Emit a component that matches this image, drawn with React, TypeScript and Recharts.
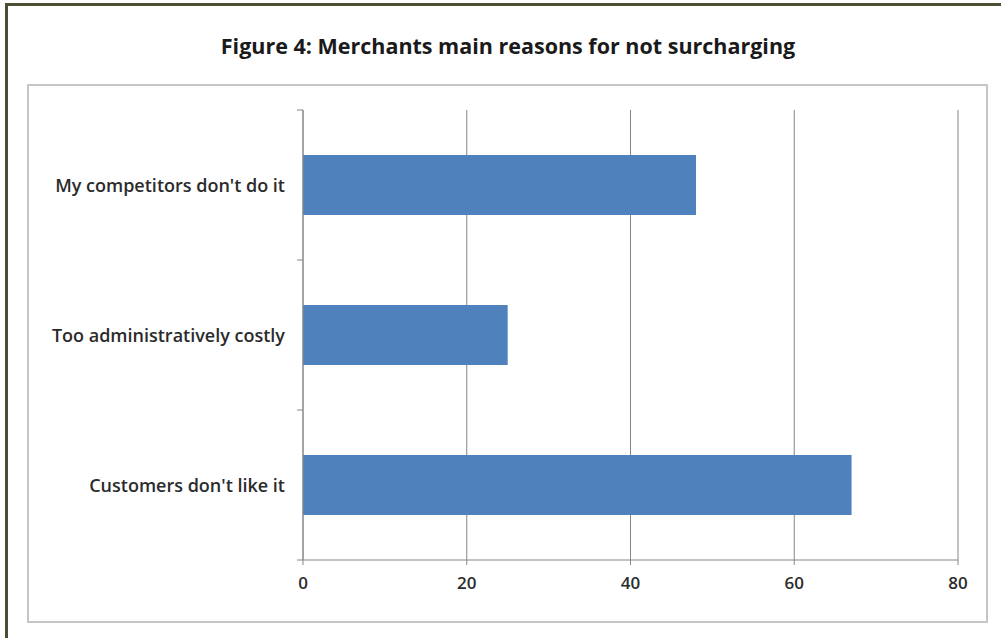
import { Bar, BarChart, CartesianGrid, XAxis, YAxis } from "recharts";

const reasons = [
  "My competitors don't do it",
  "Too administratively costly",
  "Customers don't like it",
];
const shares = [48, 25, 67];
const xTicks = [0, 20, 40, 60, 80];

const chartData = reasons.map((name, i) => ({ name, value: shares[i] }));

const AXIS = "#868686";
const FONT = "'Open Sans', Lato, sans-serif";
const PLOT_LEFT = 303;
const PLOT_TOP = 110;
const PLOT_BOTTOM = 560;
const BAND = (PLOT_BOTTOM - PLOT_TOP) / reasons.length;

// excel puts the category ticks between bands, so draw them by hand
function ReasonTick(props: any) {
  const { y, payload, index } = props;
  const top = y - BAND / 2;
  const bottom = y + BAND / 2;
  return (
    <g>
      <text
        x={PLOT_LEFT - 18}
        y={y}
        textAnchor="end"
        dominantBaseline="central"
        fill="#2b2b2b"
        fontSize={18}
        fontWeight={600}
        fontFamily={FONT}
      >
        {payload.value}
      </text>
      <line x1={PLOT_LEFT - 6} x2={PLOT_LEFT} y1={top} y2={top} stroke={AXIS} />
      {index === reasons.length - 1 && (
        <line x1={PLOT_LEFT - 6} x2={PLOT_LEFT} y1={bottom} y2={bottom} stroke={AXIS} />
      )}
    </g>
  );
}

export default function App() {
  return (
    <div
      style={{
        position: "absolute",
        left: 0,
        top: 0,
        width: 1001,
        height: 638,
        overflow: "hidden",
        background: "#ffffff",
        fontFamily: FONT,
      }}
    >
      <div
        style={{
          position: "absolute",
          left: 5,
          top: 3,
          width: 1100,
          height: 700,
          border: "3px solid #4d4d33",
        }}
      />
      <div
        style={{
          position: "absolute",
          left: 0,
          top: 31,
          width: 1016,
          textAlign: "center",
          fontSize: 21.5,
          fontWeight: 700,
          color: "#1a1a1a",
        }}
      >
        Figure 4: Merchants main reasons for not surcharging
      </div>
      <div
        style={{
          position: "absolute",
          left: 27,
          top: 84,
          width: 957,
          height: 535,
          border: "2px solid #c6c6c6",
        }}
      />
      <div style={{ position: "absolute", left: 0, top: 0 }}>
        <BarChart
          width={1001}
          height={638}
          data={chartData}
          layout="vertical"
          margin={{ top: PLOT_TOP, right: 43, bottom: 38, left: 0 }}
          barCategoryGap="30%"
        >
          <CartesianGrid vertical horizontal={false} stroke={AXIS} />
          <XAxis
            type="number"
            domain={[0, 80]}
            ticks={xTicks}
            height={40}
            stroke={AXIS}
            tickSize={5}
            tickMargin={12}
            tick={{ fill: "#2b2b2b", fontSize: 17, fontWeight: 600, fontFamily: FONT }}
          />
          <YAxis
            type="category"
            dataKey="name"
            width={PLOT_LEFT}
            stroke={AXIS}
            tickLine={false}
            tick={<ReasonTick />}
          />
          <Bar dataKey="value" fill="#4f81bd" isAnimationActive={false} />
        </BarChart>
      </div>
    </div>
  );
}
